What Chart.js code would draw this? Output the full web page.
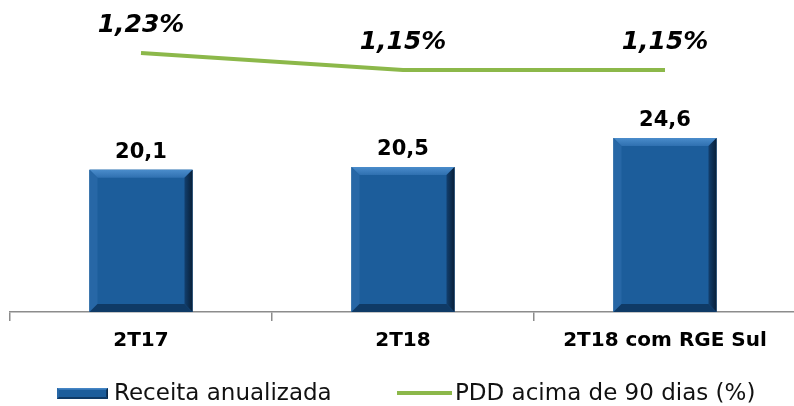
<!DOCTYPE html>
<html>
<head>
<meta charset="utf-8">
<script src="https://cdn.jsdelivr.net/npm/chart.js@4/dist/chart.umd.min.js"></script>
<style>
  html, body { margin: 0; padding: 0; background: #fff; overflow: hidden; }
  #wrap { position: relative; width: 800px; height: 406px; }
</style>
</head>
<body>
<div id="wrap"><canvas id="myChart" width="800" height="406"></canvas></div>
<script>
const categories = ["2T17", "2T18", "2T18 com RGE Sul"];
const receita = [20.1, 20.5, 24.6];
const pdd = [1.23, 1.15, 1.15];
const receitaLabel = "Receita anualizada";
const pddLabel = "PDD acima de 90 dias (%)";

const BLUE = "#1c5d9b";
const GREEN = "#8cb84a";

function fmt(v, d) {
  return v.toFixed(d).replace(".", ",");
}

// bevelled box like the office-style bars
function bevel(ctx, l, t, r, b, e) {
  ctx.save();
  ctx.fillStyle = BLUE;
  ctx.fillRect(l, t, r - l, b - t);
  let g = ctx.createLinearGradient(0, t, 0, t + e);
  g.addColorStop(0, "#4a8ccb");
  g.addColorStop(1, "#2f70b0");
  poly(ctx, [[l, t], [r, t], [r - e, t + e], [l + e, t + e]], g);
  poly(ctx, [[l, t], [l + e, t + e], [l + e, b - e], [l, b]], "#2767a6");
  g = ctx.createLinearGradient(r - e, 0, r, 0);
  g.addColorStop(0, "#123f6e");
  g.addColorStop(1, "#081f38");
  poly(ctx, [[r, t], [r, b], [r - e, b - e], [r - e, t + e]], g);
  poly(ctx, [[l, b], [r, b], [r - e, b - e], [l + e, b - e]], "#0f3a66");
  ctx.restore();
}
function poly(ctx, pts, fill) {
  ctx.beginPath();
  ctx.moveTo(pts[0][0], pts[0][1]);
  for (let i = 1; i < pts.length; i++) ctx.lineTo(pts[i][0], pts[i][1]);
  ctx.closePath();
  ctx.fillStyle = fill;
  ctx.fill();
}

const barLook = {
  id: "barLook",
  afterDatasetDraw(chart, args) {
    if (args.index !== 0) return;
    const ctx = chart.ctx;
    args.meta.data.forEach(bar => {
      const l = bar.x - bar.width / 2, r = bar.x + bar.width / 2;
      bevel(ctx, l, bar.y, r, bar.base, 8);
    });
  }
};

const valueLabels = {
  id: "valueLabels",
  afterDatasetsDraw(chart) {
    const ctx = chart.ctx;
    ctx.save();
    ctx.textAlign = "center";
    ctx.textBaseline = "alphabetic";
    ctx.fillStyle = "#000";
    ctx.font = "bold 21px 'DejaVu Sans'";
    chart.getDatasetMeta(0).data.forEach((bar, i) => {
      ctx.fillText(fmt(receita[i], 1), bar.x, bar.y - 12);
    });
    ctx.font = "italic bold 25px 'DejaVu Sans'";
    chart.getDatasetMeta(1).data.forEach((pt, i) => {
      ctx.fillText(fmt(pdd[i], 2) + "%", pt.x, pt.y - 21);
    });
    ctx.restore();
  }
};

const legendDraw = {
  id: "legendDraw",
  afterDraw(chart) {
    const ctx = chart.ctx;
    const y = 393;
    ctx.save();
    bevel(ctx, 57, y - 5, 108, y + 6, 2);
    ctx.strokeStyle = GREEN;
    ctx.lineWidth = 4;
    ctx.beginPath();
    ctx.moveTo(397, y);
    ctx.lineTo(452, y);
    ctx.stroke();
    ctx.fillStyle = "#111";
    ctx.font = "23px 'DejaVu Sans'";
    ctx.textBaseline = "middle";
    ctx.textAlign = "left";
    ctx.fillText(chart.data.datasets[0].label, 114, y + 1);
    ctx.fillText(chart.data.datasets[1].label, 455, y + 1);
    ctx.restore();
  }
};

new Chart("myChart", {
  type: "bar",
  data: {
    labels: categories,
    datasets: [{
      type: "bar",
      label: receitaLabel,
      data: receita,
      backgroundColor: BLUE,
      barPercentage: 0.393,
      categoryPercentage: 1,
      yAxisID: "y",
      order: 2
    }, {
      type: "line",
      label: pddLabel,
      data: pdd,
      borderColor: GREEN,
      borderWidth: 4,
      pointRadius: 0,
      fill: false,
      tension: 0,
      yAxisID: "y2",
      order: 1
    }]
  },
  options: {
    responsive: false,
    animation: false,
    layout: { padding: { left: 10, right: 4, top: 10, bottom: 0 } },
    plugins: {
      legend: { display: false },
      tooltip: { enabled: false }
    },
    scales: {
      x: {
        offset: true,
        grid: {
          offset: true,
          drawOnChartArea: false,
          drawTicks: true,
          tickLength: 9,
          color: "#8c8c8c",
          lineWidth: 1.5
        },
        border: { display: true, color: "#8c8c8c", width: 1.5 },
        ticks: {
          color: "#000",
          font: { family: "'DejaVu Sans'", size: 20, weight: "bold" },
          padding: 8,
          maxRotation: 0
        },
        afterFit(scale) { scale.height = 94; }
      },
      y: {
        display: false,
        min: 0,
        max: 42.7
      },
      y2: {
        display: false,
        min: 0.0112,
        max: 1.4324
      }
    }
  },
  plugins: [barLook, valueLabels, legendDraw]
});
</script>
</body>
</html>
